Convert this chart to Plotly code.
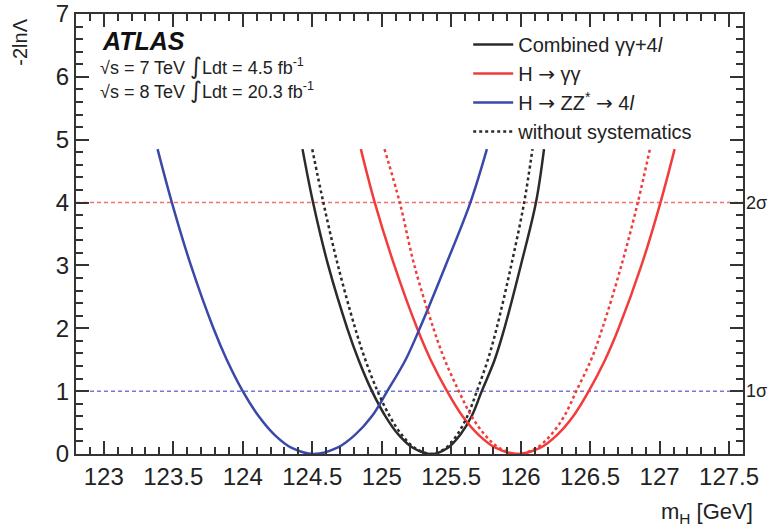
import plotly.graph_objects as go

# -2lnLambda levels at which curve positions were read (left branch -> min -> right branch)
y_levels = [4.85, 4, 3, 2, 1.5, 1, 0.6, 0.3, 0.1, 0, 0.1, 0.3, 0.6, 1, 1.5, 2, 3, 4, 4.85]

# m_H values (GeV) at those levels
x_zz = [123.387, 123.49, 123.627, 123.789, 123.885, 124.00, 124.115, 124.231, 124.349, 124.51,
        124.681, 124.806, 124.929, 125.04, 125.172, 125.274, 125.46, 125.638, 125.757]
x_comb = [124.43, 124.506, 124.615, 124.752, 124.833, 124.93, 125.027, 125.124, 125.224, 125.36,
          125.477, 125.563, 125.647, 125.72, 125.813, 125.883, 126.001, 126.11, 126.168]
x_comb_nosyst = [124.50, 124.58, 124.685, 124.809, 124.882, 124.97, 125.058, 125.146, 125.237, 125.36,
                 125.464, 125.541, 125.616, 125.685, 125.764, 125.827, 125.932, 126.025, 126.085]
x_gg = [124.85, 124.95, 125.091, 125.255, 125.352, 125.47, 125.582, 125.699, 125.818, 125.98,
        126.142, 126.261, 126.378, 126.49, 126.608, 126.705, 126.869, 127.006, 127.108]
x_gg_nosyst = [125.02, 125.13, 125.235, 125.372, 125.453, 125.555, 125.647, 125.744, 125.844, 125.98,
               126.116, 126.216, 126.313, 126.40, 126.507, 126.588, 126.725, 126.843, 126.93]

sigma_levels = [1, 4]
sigma_labels = ["1σ", "2σ"]

x_range = [122.8, 127.6]
y_range = [0, 7]

BLACK = "#2b2b2b"
RED = "#f23c3c"
BLUE = "#3a48a8"
FONT = "Liberation Sans, Arial, sans-serif"
ARROW = "<span style='font-family:DejaVu Sans'>→</span>"
INTEG = "<span style='font-family:DejaVu Sans;font-size:23px'>∫</span>"

fig = go.Figure()

fig.add_trace(go.Scatter(x=x_comb, y=y_levels, mode="lines", name="Combined γγ+4<i>l</i>",
                         line=dict(color=BLACK, width=2.5, shape="spline")))
fig.add_trace(go.Scatter(x=x_gg, y=y_levels, mode="lines", name=f"H {ARROW} γγ",
                         line=dict(color=RED, width=2.5, shape="spline")))
fig.add_trace(go.Scatter(x=x_zz, y=y_levels, mode="lines",
                         name=f"H {ARROW} ZZ<sup>*</sup> {ARROW} 4<i>l</i>",
                         line=dict(color=BLUE, width=2.5, shape="spline")))
fig.add_trace(go.Scatter(x=x_comb_nosyst, y=y_levels, mode="lines", name="without systematics",
                         line=dict(color=BLACK, width=2.5, dash="dot", shape="spline")))
fig.add_trace(go.Scatter(x=x_gg_nosyst, y=y_levels, mode="lines", showlegend=False,
                         line=dict(color=RED, width=2.5, dash="dot", shape="spline")))

# sigma reference lines
line_cols = {1: "#7878d8", 4: "#f07070"}
for lvl, lab in zip(sigma_levels, sigma_labels):
    fig.add_shape(type="line", xref="x domain", yref="y", x0=0, x1=1, y0=lvl, y1=lvl,
                  line=dict(color=line_cols[lvl], width=1.5, dash="4px,3px"), layer="below")
    fig.add_annotation(xref="paper", yref="y", x=1, y=lvl, text=lab, showarrow=False,
                       xanchor="left", yanchor="middle", xshift=1,
                       font=dict(family=FONT, size=18, color="#222"))

axis_common = dict(showgrid=False, zeroline=False, showline=True, linecolor="#333", linewidth=2,
                   mirror="ticks", ticks="inside", ticklen=13, tickwidth=1.5, tickcolor="#333",
                   automargin=False, ticklabeloverflow="allow",
                   tickfont=dict(family=FONT, size=24, color="#222"))

fig.update_xaxes(range=x_range, dtick=0.5, tick0=123,
                 minor=dict(dtick=0.1, ticks="inside", ticklen=7, tickwidth=1.5, tickcolor="#333"),
                 **axis_common)
fig.update_yaxes(range=y_range, dtick=1, tick0=0,
                 minor=dict(dtick=0.2, ticks="inside", ticklen=7, tickwidth=1.5, tickcolor="#333"),
                 **axis_common)

# axis titles
fig.add_annotation(xref="paper", yref="paper", x=-0.084, y=0.995, text="-2lnΛ", textangle=-90,
                   showarrow=False, xanchor="center", yanchor="top",
                   font=dict(family=FONT, size=20, color="#222"))
fig.add_annotation(xref="paper", yref="paper", x=1.018, y=-0.134, text="m<sub>H</sub> [GeV]",
                   showarrow=False, xanchor="right", yanchor="middle",
                   font=dict(family=FONT, size=22, color="#222"))

# ATLAS labels
fig.add_annotation(xref="paper", yref="paper", x=0.036, y=0.975, text="<b><i>ATLAS</i></b>",
                   showarrow=False, xanchor="left", yanchor="top",
                   font=dict(family=FONT, size=25, color="#111"))
fig.add_annotation(xref="paper", yref="paper", x=0.033, y=0.882,
                   text=f"√s = 7 TeV {INTEG}Ldt = 4.5 fb<sup>-1</sup>",
                   showarrow=False, xanchor="left", yanchor="middle",
                   font=dict(family=FONT, size=18, color="#222"))
fig.add_annotation(xref="paper", yref="paper", x=0.033, y=0.828,
                   text=f"√s = 8 TeV {INTEG}Ldt = 20.3 fb<sup>-1</sup>",
                   showarrow=False, xanchor="left", yanchor="middle",
                   font=dict(family=FONT, size=18, color="#222"))

fig.update_layout(
    width=773, height=530,
    margin=dict(l=76, r=30, t=14, b=76),
    paper_bgcolor="white", plot_bgcolor="white",
    legend=dict(x=0.588, y=0.975, xanchor="left", yanchor="top",
                bgcolor="rgba(255,255,255,0)", font=dict(family=FONT, size=20, color="#222"),
                itemwidth=40, tracegroupgap=0),
)

fig.write_html("out.html")
